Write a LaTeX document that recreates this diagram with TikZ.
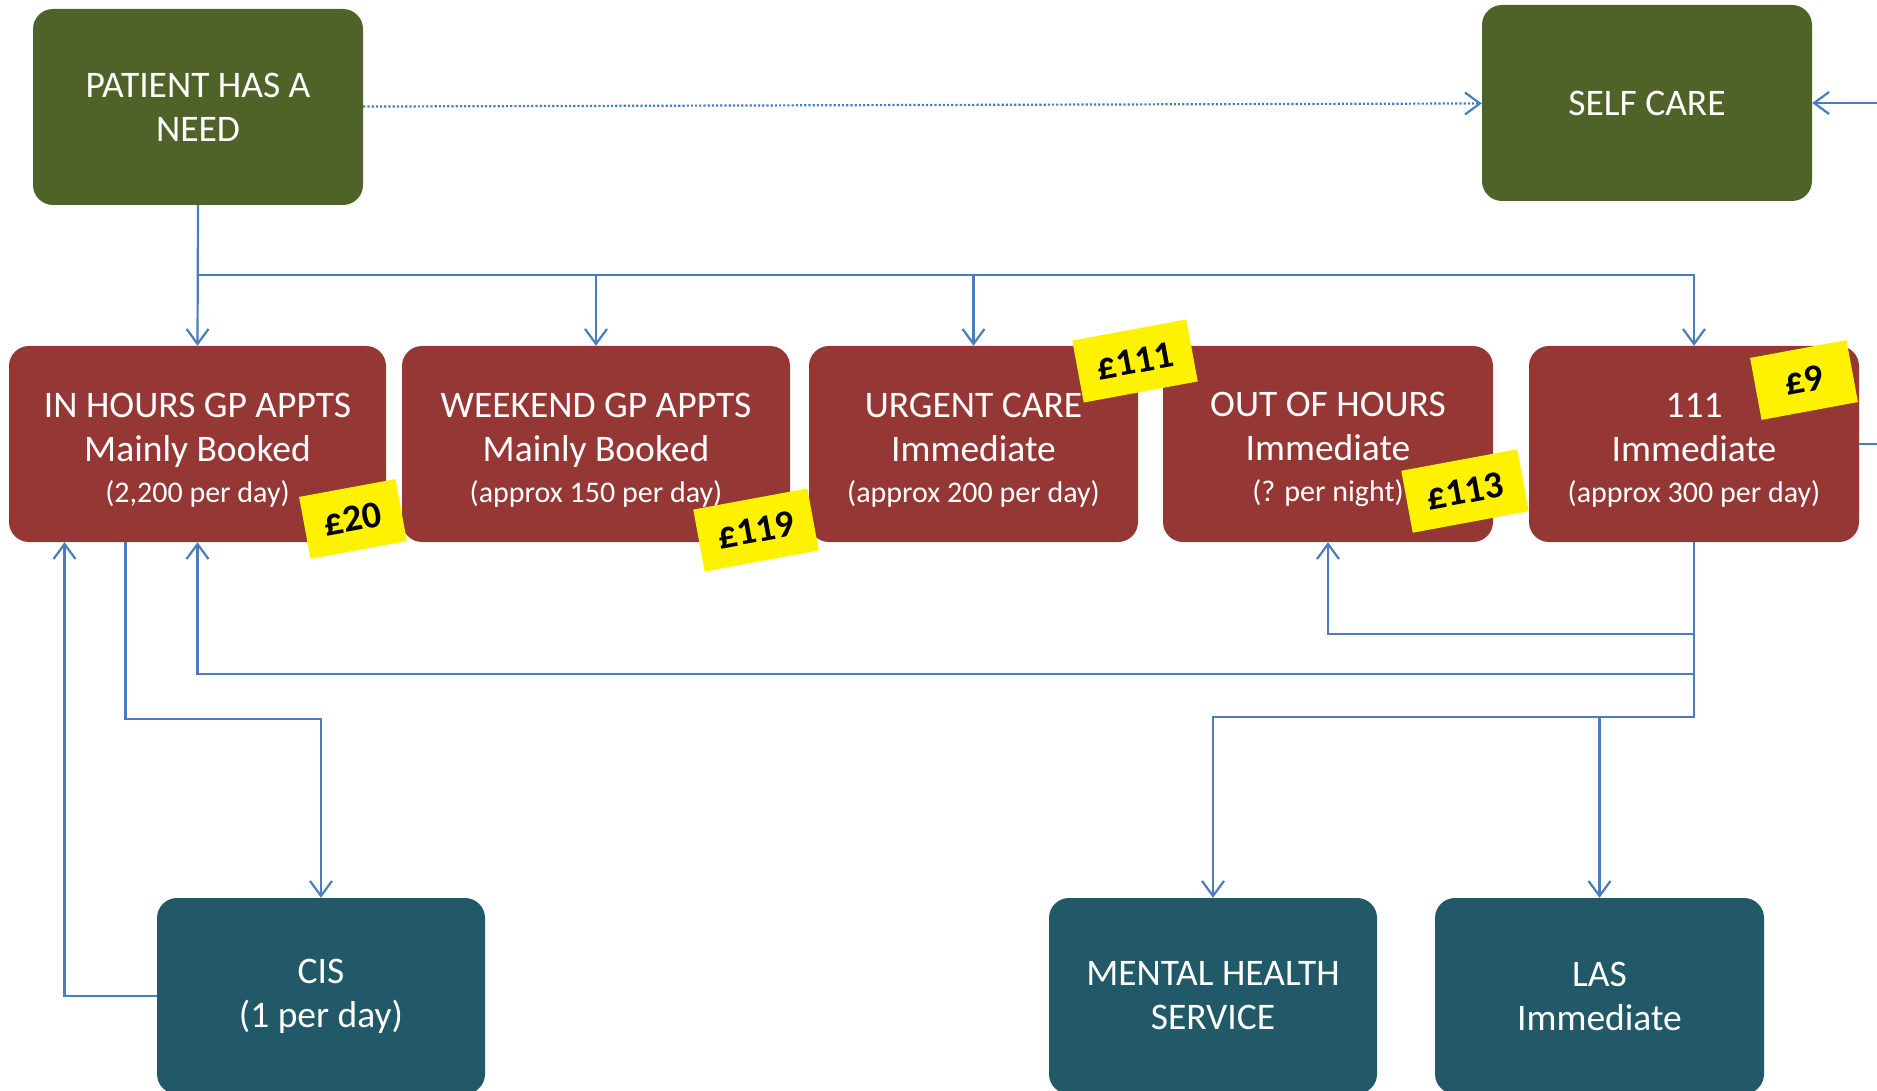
\documentclass[tikz,border=0pt]{standalone}
\usepackage{fontspec}
\setmainfont{Carlito}
\usepackage{tikz}
\usetikzlibrary{arrows.meta}
\definecolor{needgreen}{HTML}{4F6228}
\definecolor{carered}{HTML}{953735}
\definecolor{teal}{HTML}{215968}
\definecolor{linkblue}{HTML}{4A7EBB}
\tikzset{
    box/.style={rectangle, rounded corners=20pt, text=white, align=center,
    	minimum height=196pt, inner sep=0pt, font=\fontsize{37.5}{44}\selectfont}
}
\tikzset{
    gbox/.style={box, fill=needgreen},
    rbox/.style={box, fill=carered},
    tbox/.style={box, fill=teal}
}
\tikzset{
    tag/.style={rectangle, fill=yellow, rotate=10.5, minimum height=63pt,
    	inner sep=0pt, text=black, font=\bfseries\fontsize{38}{40}\selectfont}
}
\tikzset{
    link/.style={draw=linkblue, line width=2.2pt,
    	-{Straight Barb[length=15pt,width=22pt,line width=2.2pt]}}
}
\newcommand{\topgap}{\rule{0pt}{36pt}}
\newcommand{\perday}[1]{{\fontsize{30}{35}\selectfont #1}}

\begin{document}
\begin{tikzpicture}[x=1pt,y=-1pt]
	\useasboundingbox (0,0) rectangle (1877,1091);
	\clip (0,0) rectangle (1877,1091);
	\node[gbox, minimum width=330pt] (need) at (198,107) {PATIENT HAS A\\NEED};
	\node[gbox, minimum width=330pt] (self) at (1647,103) {SELF CARE};
	\node[rbox, minimum width=377pt] (gp) at (197.5,444)
		{\topgap IN HOURS GP APPTS\\Mainly Booked\\[-3pt]\perday{(2,200 per day)}};
	\node[rbox, minimum width=388pt] (wkend) at (596,444)
		{\topgap WEEKEND GP APPTS\\Mainly Booked\\[-3pt]\perday{(approx 150 per day)}};
	\node[rbox, minimum width=329pt] (urgent) at (973.5,444)
		{\topgap URGENT CARE\\Immediate\\[-3pt]\perday{(approx 200 per day)}};
	\node[rbox, minimum width=330pt] (ooh) at (1328,444)
		{\topgap OUT OF HOURS\\Immediate\\[-3pt]\perday{(? per night)}};
	\node[rbox, minimum width=330pt] (nhs) at (1694,444)
		{\topgap 111\\Immediate\\[-3pt]\perday{(approx 300 per day)}};
	\node[tbox, minimum width=328pt] (cis) at (321,996) {CIS\\(1 per day)};
	\node[tbox, minimum width=328pt] (mh) at (1213,996) {MENTAL HEALTH\\SERVICE};
	\node[tbox, minimum width=329pt] (las) at (1599.5,996) {LAS\\Immediate};

	\draw[link, dotted] (need) -- (self);
	\draw[link] (nhs.east) -- ++(40,0) |- (self.east);
	\draw[link] (need.south) -- (gp.north);
	\draw[link] (need.south) -- ++(0,70) -| (wkend.north);
	\draw[link] (need.south) -- ++(0,70) -| (urgent.north);
	\draw[link] (need.south) -- ++(0,70) -| (nhs.north);
	\draw[link] ([xshift=-72pt]gp.south) -- ++(0,177) -| (cis.north);
	\draw[link] (cis.west) -| ([xshift=-133pt]gp.south);
	\draw[link] (nhs.south) -- ++(0,92) -| (ooh.south);
	\draw[link] (nhs.south) -- ++(0,132) -| (gp.south);
	\draw[link] (nhs.south) -- ++(0,175) -| (mh.north);
	\draw[link] (nhs.south) -- ++(0,175) -| (las.north);

	\node[tag, minimum width=98pt] (p20) at (353,519) {£20};
	\node[tag, minimum width=116pt] (p119) at (756,530) {£119};
	\node[tag, minimum width=116pt] (p111) at (1135,361) {£111};
	\node[tag, minimum width=118pt] (p113) at (1465,491) {£113};
	\node[tag, minimum width=98pt] (p9) at (1804,380) {£9};
\end{tikzpicture}
\end{document}
